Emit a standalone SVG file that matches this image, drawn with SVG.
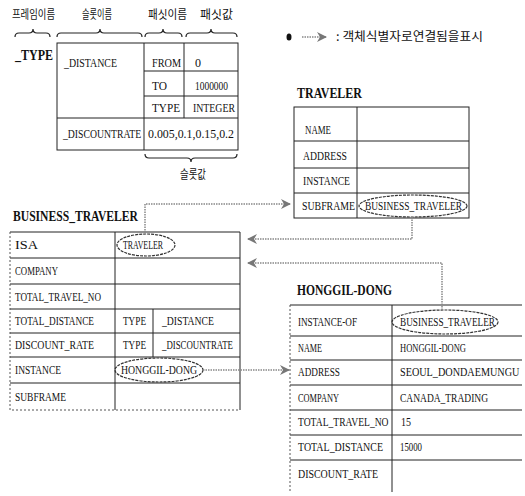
<svg xmlns="http://www.w3.org/2000/svg" width="525" height="496" viewBox="0 0 525 496">
<style>
text{font-family:"Liberation Serif","Noto Sans CJK KR",serif;font-size:12px;fill:#111}
.t{font-weight:bold;font-size:14px}
.k{font-family:"Noto Sans CJK KR","Liberation Sans",sans-serif;font-size:12px}
.ln{stroke:#222;stroke-width:1;fill:none}
.dl{stroke:#555;stroke-width:1;fill:none;stroke-dasharray:2 2}
.br{stroke:#222;stroke-width:1.2;fill:none}
.el{stroke:#333;stroke-width:1.2;fill:none;stroke-dasharray:3 1}
.cn{stroke:#888;stroke-width:1.5;fill:none;stroke-dasharray:1.5 1}
</style>
<defs>
<marker id="ah" markerWidth="10" markerHeight="10" refX="9" refY="5" orient="auto" markerUnits="userSpaceOnUse">
<path d="M0,0 L10,5 L0,10 L3,5 z" fill="#777"/>
</marker>
</defs>
<rect width="525" height="496" fill="#fff"/>

<g id="legend-type">
<text class="k" x="12" y="19" textLength="43" lengthAdjust="spacingAndGlyphs">프레임이름</text>
<text class="k" x="82" y="19" textLength="30" lengthAdjust="spacingAndGlyphs">슬롯이름</text>
<text class="k" x="148" y="19" textLength="39" lengthAdjust="spacingAndGlyphs">패싯이름</text>
<text class="k" x="200" y="19" textLength="33" lengthAdjust="spacingAndGlyphs">패싯값</text>
<path class="br" d="M15,37 Q15,33 19,33 L29,33 Q33,33 33,29 Q33,33 37,33 L46,33 Q50,33 50,37"/>
<path class="br" d="M57,37 Q57,33 61,33 L96,33 Q100,33 100,29 Q100,33 104,33 L138,33 Q142,33 142,37"/>
<path class="br" d="M145,37 Q145,33 149,33 L159,33 Q163,33 163,29 Q163,33 167,33 L178,33 Q182,33 182,37"/>
<path class="br" d="M186,37 Q186,33 190,33 L207,33 Q211,33 211,29 Q211,33 215,33 L233,33 Q237,33 237,37"/>
<path class="br" d="M145,154 Q145,158 149,158 L187,158 Q191,158 191,162 Q191,158 195,158 L233,158 Q237,158 237,154"/>
<text class="k" x="180" y="179" textLength="26" lengthAdjust="spacingAndGlyphs">슬롯값</text>
</g>

<g id="frame-type">
<text class="t" x="15" y="60" textLength="38" lengthAdjust="spacingAndGlyphs">_TYPE</text>
<rect class="ln" x="57" y="43" width="181" height="107"/>
<path class="ln" d="M57,118 H238 M144,43 V150 M184,43 V118 M144,71 H238 M144,96 H238"/>
<text x="64" y="67" textLength="53" lengthAdjust="spacingAndGlyphs">_DISTANCE</text>
<text x="152" y="67" textLength="29" lengthAdjust="spacingAndGlyphs">FROM</text>
<text x="195" y="67">0</text>
<text x="152" y="90" textLength="15" lengthAdjust="spacingAndGlyphs">TO</text>
<text x="195" y="90" textLength="33" lengthAdjust="spacingAndGlyphs">1000000</text>
<text x="152" y="112" textLength="28" lengthAdjust="spacingAndGlyphs">TYPE</text>
<text x="193" y="112" textLength="42" lengthAdjust="spacingAndGlyphs">INTEGER</text>
<text transform="translate(63,138) scale(0.81,1)" font-size="11">_DISCOUNTRATE</text>
<text x="148" y="138" font-size="11" textLength="86" lengthAdjust="spacingAndGlyphs">0.005,0.1,0.15,0.2</text>
</g>

<g id="legend">
<ellipse cx="289" cy="37" rx="2.5" ry="3.5" fill="#111"/>
<path class="cn" d="M302,37 H326" marker-end="url(#ah)"/>
<text class="k" x="336" y="41" textLength="147" lengthAdjust="spacingAndGlyphs">: 객체식별자로연결됨을표시</text>
</g>

<g id="frame-traveler">
<text class="t" x="297" y="98" textLength="65" lengthAdjust="spacingAndGlyphs">TRAVELER</text>
<rect class="ln" x="294" y="107" width="175" height="111"/>
<path class="ln" d="M357,107 V218 M294,141 H469 M294,168 H469 M294,193 H469"/>
<text x="305" y="134" textLength="26" lengthAdjust="spacingAndGlyphs">NAME</text>
<text x="303" y="160" textLength="44" lengthAdjust="spacingAndGlyphs">ADDRESS</text>
<text x="303" y="185" textLength="47" lengthAdjust="spacingAndGlyphs">INSTANCE</text>
<text x="302" y="210" textLength="53" lengthAdjust="spacingAndGlyphs">SUBFRAME</text>
<text x="365" y="210" textLength="97" lengthAdjust="spacingAndGlyphs">BUSINESS_TRAVELER</text>
<ellipse class="el" cx="413" cy="206" rx="54" ry="11"/>
</g>

<g id="frame-business-traveler">
<text class="t" x="13" y="221" textLength="125" lengthAdjust="spacingAndGlyphs">BUSINESS_TRAVELER</text>
<path class="ln" d="M10,232 H240 V410 M115,232 V410 M10,258 H240 M10,284 H240 M10,309 H240 M10,333 H240 M10,357 H240 M10,383 H240 M153,309 V357"/>
<path class="dl" d="M10,232 V410 H240"/>
<text x="15" y="249" textLength="23" lengthAdjust="spacingAndGlyphs">ISA</text>
<text x="123" y="249" textLength="40" lengthAdjust="spacingAndGlyphs">TRAVELER</text>
<ellipse class="el" cx="146" cy="245" rx="29" ry="11"/>
<text x="15" y="275" textLength="43" lengthAdjust="spacingAndGlyphs">COMPANY</text>
<text x="15" y="301" textLength="86" lengthAdjust="spacingAndGlyphs">TOTAL_TRAVEL_NO</text>
<text x="15" y="325" textLength="79" lengthAdjust="spacingAndGlyphs">TOTAL_DISTANCE</text>
<text x="123" y="325" textLength="23" lengthAdjust="spacingAndGlyphs">TYPE</text>
<text x="162" y="325" textLength="52" lengthAdjust="spacingAndGlyphs">_DISTANCE</text>
<text x="15" y="349" textLength="79" lengthAdjust="spacingAndGlyphs">DISCOUNT_RATE</text>
<text x="123" y="349" textLength="23" lengthAdjust="spacingAndGlyphs">TYPE</text>
<text x="162" y="349" textLength="71" lengthAdjust="spacingAndGlyphs">_DISCOUNTRATE</text>
<text x="15" y="374" textLength="46" lengthAdjust="spacingAndGlyphs">INSTANCE</text>
<text x="121" y="374" textLength="76" lengthAdjust="spacingAndGlyphs">HONGGIL-DONG</text>
<ellipse class="el" cx="159" cy="370" rx="44" ry="12"/>
<text x="15" y="401" textLength="51" lengthAdjust="spacingAndGlyphs">SUBFRAME</text>
</g>

<g id="frame-honggil-dong">
<text class="t" x="297" y="295" textLength="95" lengthAdjust="spacingAndGlyphs">HONGGIL-DONG</text>
<path class="ln" d="M290,305 H522 M392,305 V492 M290,336 H522 M290,360 H522 M290,385 H522 M290,410 H522 M290,435 H522 M290,460 H522"/>
<path class="dl" d="M290,305 V492"/>
<text x="298" y="326" textLength="59" lengthAdjust="spacingAndGlyphs">INSTANCE-OF</text>
<text x="400" y="326" textLength="95" lengthAdjust="spacingAndGlyphs">BUSINESS_TRAVELER</text>
<ellipse class="el" cx="445" cy="322" rx="53" ry="12"/>
<text x="298" y="352" textLength="24" lengthAdjust="spacingAndGlyphs">NAME</text>
<text x="400" y="352" textLength="66" lengthAdjust="spacingAndGlyphs">HONGGIL-DONG</text>
<text x="298" y="376" textLength="42" lengthAdjust="spacingAndGlyphs">ADDRESS</text>
<text transform="translate(400,376) scale(0.85,1)" font-size="11">SEOUL_DONDAEMUNGU</text>
<text x="298" y="402" textLength="41" lengthAdjust="spacingAndGlyphs">COMPANY</text>
<text x="400" y="402" textLength="88" lengthAdjust="spacingAndGlyphs">CANADA_TRADING</text>
<text transform="translate(298,426) scale(0.8,1)" font-size="11">TOTAL_TRAVEL_NO</text>
<text x="401" y="426" textLength="10" lengthAdjust="spacingAndGlyphs">15</text>
<text x="298" y="451" textLength="85" lengthAdjust="spacingAndGlyphs">TOTAL_DISTANCE</text>
<text x="400" y="451" textLength="22" lengthAdjust="spacingAndGlyphs">15000</text>
<text x="298" y="478" textLength="80" lengthAdjust="spacingAndGlyphs">DISCOUNT_RATE</text>
</g>

<g id="connectors">
<path class="cn" d="M145,233 V204 H290" marker-end="url(#ah)"/>
<path class="cn" d="M412,217 V239 H248" marker-end="url(#ah)"/>
<path class="cn" d="M442,310 V263 H248" marker-end="url(#ah)"/>
<path class="cn" d="M203,370 H289" marker-end="url(#ah)"/>
</g>
</svg>
